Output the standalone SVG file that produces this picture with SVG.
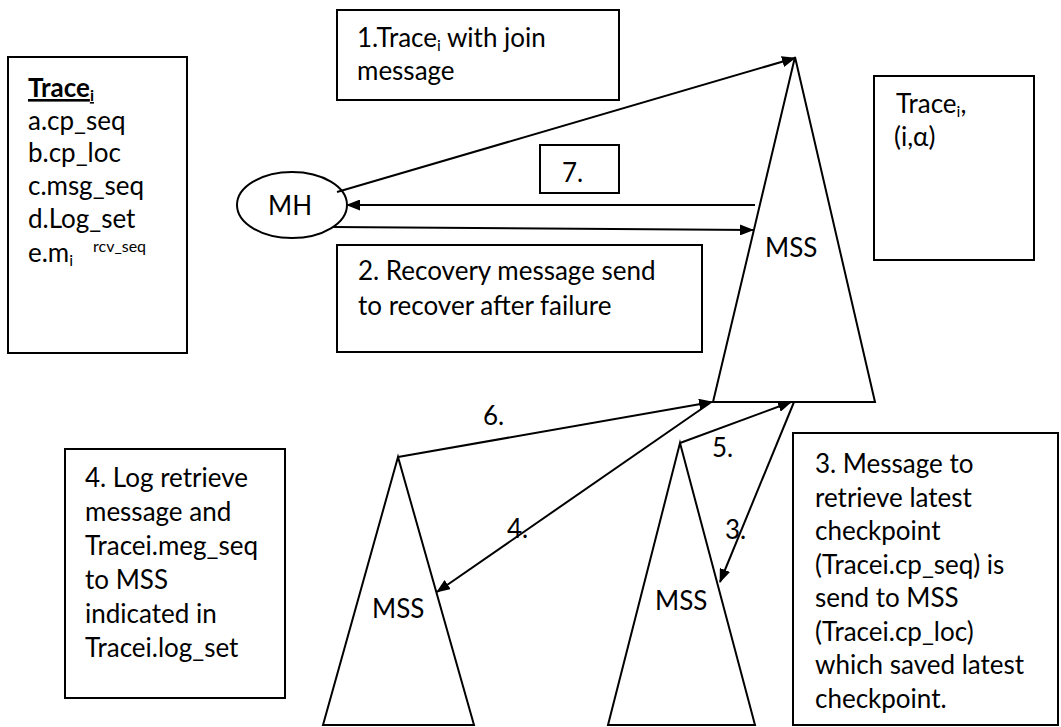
<svg xmlns="http://www.w3.org/2000/svg" width="1061" height="727" viewBox="0 0 1061 727">
  <style>
    .box { fill: #fff; stroke: #000; stroke-width: 2; }
    .tri { fill: #fff; stroke: #000; stroke-width: 2; stroke-linejoin: miter; }
    .t { font-family: Lato, "Liberation Sans", sans-serif; font-size: 26px; fill: #000; }
    .sub { font-size: 16px; }
    .conn line { stroke: #000; stroke-width: 2; marker-end: url(#head); }
  </style>
  <defs>
    <marker id="head" viewBox="0 0 14 11" refX="13" refY="5.5" markerWidth="14" markerHeight="11" markerUnits="userSpaceOnUse" orient="auto">
      <path d="M0,0 L14,5.5 L0,11 Z" fill="#000"/>
    </marker>
  </defs>
  <rect width="1061" height="727" fill="#fff"/>

  <!-- mobile support stations -->
  <g id="mss-top">
    <polygon class="tri" points="795,57 713,402 875,402"/>
    <text class="t" x="765" y="257">MSS</text>
  </g>
  <g id="mss-left">
    <polygon class="tri" points="398,457 323,725 474,725"/>
    <text class="t" x="372" y="618">MSS</text>
  </g>
  <g id="mss-mid">
    <polygon class="tri" points="680,443 608,725 755,725"/>
    <text class="t" x="655" y="610">MSS</text>
  </g>

  <!-- mobile host -->
  <g id="mh">
    <ellipse cx="292" cy="205" rx="55" ry="33" fill="#fff" stroke="#000" stroke-width="2"/>
    <text class="t" x="290" y="215" text-anchor="middle">MH</text>
  </g>

  <!-- trace record -->
  <g id="trace-box">
    <rect class="box" x="8" y="57" width="179" height="296"/>
    <text class="t" x="28" y="97"><tspan font-weight="bold" text-decoration="underline">Trace</tspan><tspan class="sub" dy="4" font-weight="bold" text-decoration="underline">i</tspan></text>
    <text class="t" x="28" y="130">a.cp_seq</text>
    <text class="t" x="28" y="162">b.cp_loc</text>
    <text class="t" x="28" y="195">c.msg_seq</text>
    <text class="t" x="28" y="228">d.Log_set</text>
    <text class="t" x="28" y="262">e.m<tspan class="sub" dy="4">i</tspan><tspan class="sub" x="93" y="252">rcv_seq</tspan></text>
  </g>

  <g id="note-1">
    <rect class="box" x="337" y="10" width="282" height="90"/>
    <text class="t" x="357" y="47">1.Trace<tspan class="sub" dy="4">i</tspan><tspan dy="-4"> with join</tspan></text>
    <text class="t" x="357" y="80">message</text>
  </g>

  <g id="trace-alpha">
    <rect class="box" x="874" y="76" width="160" height="184"/>
    <text class="t" x="896" y="113">Trace<tspan class="sub" dy="4">i</tspan><tspan dy="-4">,</tspan></text>
    <text class="t" x="894" y="146">(i,α)</text>
  </g>

  <g id="note-7">
    <rect class="box" x="540" y="145" width="79" height="48"/>
    <text class="t" x="562" y="182">7.</text>
  </g>

  <g id="note-2">
    <rect class="box" x="337" y="245" width="365" height="107"/>
    <text class="t" x="358" y="280">2. Recovery message send</text>
    <text class="t" x="358" y="315">to recover after failure</text>
  </g>

  <g id="note-4">
    <rect class="box" x="65" y="449" width="220" height="249"/>
    <text class="t" x="85" y="487">4. Log retrieve</text>
    <text class="t" x="85" y="521">message and</text>
    <text class="t" x="85" y="555">Tracei.meg_seq</text>
    <text class="t" x="85" y="589">to MSS</text>
    <text class="t" x="85" y="623">indicated in</text>
    <text class="t" x="85" y="657">Tracei.log_set</text>
  </g>

  <g id="note-3">
    <rect class="box" x="793" y="433" width="265" height="292"/>
    <text class="t" x="815" y="473">3. Message to</text>
    <text class="t" x="815" y="507">retrieve latest</text>
    <text class="t" x="815" y="540">checkpoint</text>
    <text class="t" x="815" y="574">(Tracei.cp_seq) is</text>
    <text class="t" x="815" y="607">send to MSS</text>
    <text class="t" x="815" y="641">(Tracei.cp_loc)</text>
    <text class="t" x="815" y="674">which saved latest</text>
    <text class="t" x="815" y="708">checkpoint.</text>
  </g>

  <!-- message flows -->
  <g id="connectors" class="conn">
    <line x1="337" y1="192" x2="795" y2="58"/>
    <line x1="755" y1="205" x2="347" y2="205"/>
    <line x1="333" y1="227" x2="753" y2="230"/>
    <line x1="398" y1="457" x2="712" y2="402"/>
    <line x1="710" y1="403" x2="437" y2="592"/>
    <line x1="680" y1="443" x2="791" y2="402"/>
    <line x1="794" y1="402" x2="720" y2="582"/>
  </g>
  <g id="connector-labels">
    <text class="t" x="483" y="425">6.</text>
    <text class="t" x="507" y="538">4.</text>
    <text class="t" x="712" y="457">5.</text>
    <text class="t" x="725" y="539">3.</text>
  </g>
</svg>
